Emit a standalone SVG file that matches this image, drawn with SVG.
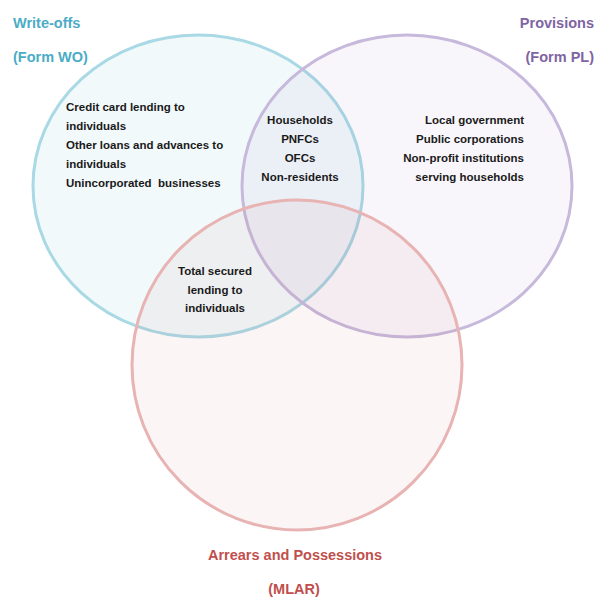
<svg xmlns="http://www.w3.org/2000/svg" width="597" height="598" viewBox="0 0 597 598">
<style>
.t{font-family:"Liberation Sans",Arial,sans-serif;font-weight:bold;font-size:11.5px;fill:#1a1a1a}
.h{font-family:"Liberation Sans",Arial,sans-serif;font-weight:bold;font-size:14.5px}
.c{stroke-width:3}
</style>
<rect width="597" height="598" fill="#ffffff"/>
<g id="circle-wo">
<ellipse class="c" cx="198" cy="186" rx="165" ry="151" fill="#4bacc6" fill-opacity="0.07" stroke="#a9d9e5"/>
</g>
<g id="circle-pl">
<ellipse class="c" cx="407" cy="186" rx="165" ry="151" fill="#8064a2" fill-opacity="0.06" stroke="#c7b9dc"/>
</g>
<g id="circle-mlar">
<ellipse class="c" cx="297" cy="365" rx="165" ry="165" fill="#c0504d" fill-opacity="0.06" stroke="#e8b3b3"/>
</g>
<g id="label-wo">
<text class="h" x="13" y="28" fill="#4bacc6">Write-offs</text>
<text class="h" x="13" y="62" fill="#4bacc6">(Form WO)</text>
</g>
<g id="label-pl">
<text class="h" x="594" y="28" fill="#8064a2" text-anchor="end">Provisions</text>
<text class="h" x="594" y="62" fill="#8064a2" text-anchor="end">(Form PL)</text>
</g>
<g id="label-mlar">
<text class="h" x="295" y="560" fill="#c0504d" text-anchor="middle">Arrears and Possessions</text>
<text class="h" x="294" y="594" fill="#c0504d" text-anchor="middle">(MLAR)</text>
</g>
<g id="wo-only">
<text class="t" x="66" y="111">Credit card lending to</text>
<text class="t" x="66" y="130">individuals</text>
<text class="t" x="66" y="149">Other loans and advances to</text>
<text class="t" x="66" y="168">individuals</text>
<text class="t" x="66" y="187" xml:space="preserve">Unincorporated  businesses</text>
</g>
<g id="wo-pl">
<text class="t" x="300" y="124" text-anchor="middle">Households</text>
<text class="t" x="300" y="143" text-anchor="middle">PNFCs</text>
<text class="t" x="300" y="162" text-anchor="middle">OFCs</text>
<text class="t" x="300" y="181" text-anchor="middle">Non-residents</text>
</g>
<g id="pl-only">
<text class="t" x="524" y="124" text-anchor="end">Local government</text>
<text class="t" x="524" y="143" text-anchor="end">Public corporations</text>
<text class="t" x="524" y="162" text-anchor="end">Non-profit institutions</text>
<text class="t" x="524" y="181" text-anchor="end">serving households</text>
</g>
<g id="wo-mlar">
<text class="t" x="215" y="275" text-anchor="middle">Total secured</text>
<text class="t" x="215" y="294" text-anchor="middle">lending to</text>
<text class="t" x="215" y="312" text-anchor="middle">individuals</text>
</g>
<g id="connectors"></g>
</svg>
